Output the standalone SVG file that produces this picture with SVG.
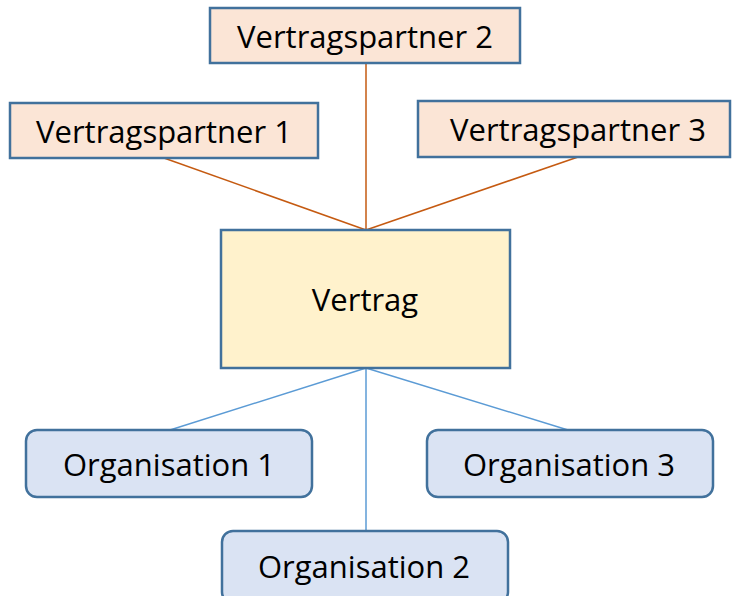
<svg xmlns="http://www.w3.org/2000/svg" width="732" height="596" viewBox="0 0 732 596">
<style>
.box{stroke:#41719C;stroke-width:2.5}
.vp{fill:#FBE5D6}
.v{fill:#FFF2CC}
.org{fill:#DAE3F3}
.t{font-family:"Open Sans","Liberation Sans",sans-serif;font-size:31px;fill:#000;text-anchor:middle;dominant-baseline:central}
.lo{stroke:#C55A11;stroke-width:1.5;fill:none}
.lb{stroke:#5B9BD5;stroke-width:1.5;fill:none}
</style>
<rect width="732" height="596" fill="#fff"/>
<g id="connectors">
<line class="lo" x1="164" y1="158" x2="366" y2="230"/>
<line class="lo" x1="366" y1="63" x2="366" y2="230"/>
<line class="lo" x1="578" y1="157" x2="366" y2="230"/>
<line class="lb" x1="366" y1="368" x2="170" y2="430"/>
<line class="lb" x1="366" y1="368" x2="366" y2="531"/>
<line class="lb" x1="366" y1="368" x2="568" y2="430"/>
</g>
<g id="vp2"><rect class="box vp" x="210" y="8" width="310" height="55"/><text class="t" x="365" y="36">Vertragspartner 2</text></g>
<g id="vp1"><rect class="box vp" x="10" y="103" width="308" height="55"/><text class="t" x="164" y="131">Vertragspartner 1</text></g>
<g id="vp3"><rect class="box vp" x="418" y="101" width="312" height="56"/><text class="t" x="578" y="129">Vertragspartner 3</text></g>
<g id="vertrag"><rect class="box v" x="221" y="230" width="289" height="138"/><text class="t" x="365" y="299">Vertrag</text></g>
<g id="org1"><rect class="box org" x="26" y="430" width="286" height="67" rx="11"/><text class="t" x="169" y="464">Organisation 1</text></g>
<g id="org3"><rect class="box org" x="427" y="430" width="286" height="67" rx="11"/><text class="t" x="569" y="464">Organisation 3</text></g>
<g id="org2"><rect class="box org" x="222" y="531" width="286" height="72" rx="11"/><text class="t" x="364" y="566">Organisation 2</text></g>
</svg>
